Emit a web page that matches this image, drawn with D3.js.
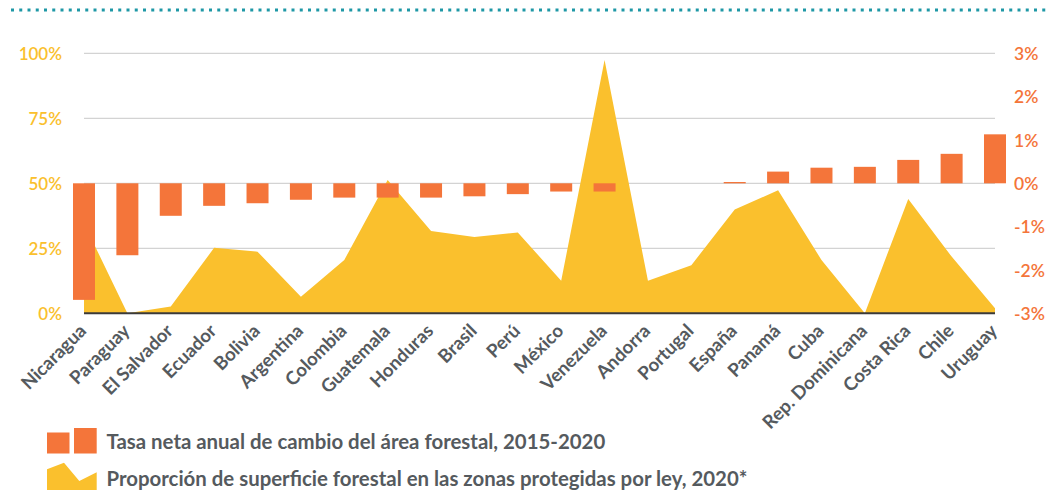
<!DOCTYPE html>
<html>
<head>
<meta charset="utf-8">
<script src="https://cdn.jsdelivr.net/npm/d3@7/dist/d3.min.js"></script>
<style>
  html, body { margin: 0; padding: 0; background: #fff; }
  svg { display: block; font-family: Lato, "Noto Sans", sans-serif; }
</style>
</head>
<body>
<svg id="chart" width="1046" height="490"></svg>
<script>
const categories = ["Nicaragua","Paraguay","El Salvador","Ecuador","Bolivia","Argentina","Colombia","Guatemala","Honduras","Brasil","Perú","México","Venezuela","Andorra","Portugal","España","Panamá","Cuba","Rep. Dominicana","Costa Rica","Chile","Uruguay"];
// Tasa neta anual de cambio del área forestal, 2015-2020 (%)
const changeRate = [-2.69,-1.66,-0.75,-0.52,-0.46,-0.38,-0.33,-0.33,-0.33,-0.30,-0.25,-0.19,-0.19,0,0,0.03,0.27,0.36,0.38,0.54,0.68,1.13];
// Proporción de superficie forestal en las zonas protegidas por ley, 2020 (%)
const protectedShare = [34.6,0,2.6,25.2,23.7,6.4,20.5,51.3,31.7,29.3,31.1,12.5,97.4,12.5,18.5,39.9,47.3,20.5,0,44.0,21.8,1.9];
const leftTicks = [0,25,50,75,100];
const rightTicks = [-3,-2,-1,0,1,2,3];
const legendLabels = ["Tasa neta anual de cambio del área forestal, 2015-2020","Proporción de superficie forestal en las zonas protegidas por ley, 2020*"];

const ORANGE = "#F4753A", YELLOW = "#FAC02D", GRAY = "#555a5e";
const svg = d3.select("#chart");

const x = d3.scalePoint().domain(categories).range([84, 995]);
const yL = d3.scaleLinear().domain([0,100]).range([313.3, 53.3]);
const yR = d3.scaleLinear().domain([-3,3]).range([313.3, 53.3]);

// top dotted rule
svg.append("line").attr("x1", 11).attr("x2", 1046).attr("y1", 10).attr("y2", 10)
  .attr("stroke", "#1e98a6").attr("stroke-width", 3).attr("stroke-dasharray", "3,5.25");

// gridlines
svg.append("g").selectAll("line").data(leftTicks.filter(d => d > 0)).join("line")
  .attr("x1", 84).attr("x2", 995)
  .attr("y1", d => yL(d)).attr("y2", d => yL(d))
  .attr("stroke", "#d3d3d3").attr("stroke-width", 1.3);

// area
const area = d3.area().x((d,i) => x(categories[i])).y0(yL(0)).y1(d => yL(d));
svg.append("path").datum(protectedShare).attr("d", area).attr("fill", YELLOW);

// bars
const bw = 22;
svg.append("g").selectAll("rect").data(changeRate).join("rect")
  .attr("x", (d,i) => x(categories[i]) - bw/2)
  .attr("width", bw)
  .attr("y", d => Math.min(yR(0), yR(d)))
  .attr("height", d => Math.abs(yR(d) - yR(0)))
  .attr("fill", ORANGE);

// baseline
svg.append("line").attr("x1", 84).attr("x2", 995).attr("y1", yL(0)).attr("y2", yL(0))
  .attr("stroke", "#3a3a3a").attr("stroke-width", 2);

// left axis
const leftAxis = d3.axisLeft(yL).tickValues(leftTicks).tickFormat(d => d + "%").tickSize(0).tickPadding(0);
const gL = svg.append("g").attr("transform", "translate(62,0)").call(leftAxis);
gL.select(".domain").remove();
gL.selectAll("text").attr("fill", YELLOW).attr("font-size", 17).attr("font-weight", 600)
  .attr("font-family", "Lato").attr("dy", "0.36em");

// right axis
const rightAxis = d3.axisRight(yR).tickValues(rightTicks).tickFormat(d => d + "%").tickSize(0).tickPadding(0);
const gR = svg.append("g").attr("transform", "translate(1014,0)").call(rightAxis);
gR.select(".domain").remove();
gR.selectAll("text").attr("fill", ORANGE).attr("font-size", 17.5).attr("font-weight", 600)
  .attr("font-family", "Lato").attr("dy", "0.36em");

// x labels
svg.append("g").selectAll("text").data(categories).join("text")
  .attr("transform", d => `translate(${x(d) + 3.5},${332}) rotate(-45)`)
  .attr("text-anchor", "end")
  .attr("fill", GRAY).attr("font-size", 18.5).attr("font-weight", 700)
  .text(d => d);

// legend
const lg = svg.append("g");
lg.append("rect").attr("x", 47).attr("y", 432.5).attr("width", 22.5).attr("height", 21).attr("fill", ORANGE);
lg.append("rect").attr("x", 74).attr("y", 428).attr("width", 22.7).attr("height", 25.5).attr("fill", ORANGE);
lg.append("path").attr("d", d3.line()([[47,469.3],[64,462.7],[79.3,481],[96.7,472.3],[96.7,492],[47,492]]) + "Z").attr("fill", YELLOW);
lg.selectAll("text").data(legendLabels).join("text")
  .attr("x", 106.5).attr("y", (d,i) => 449 + i*36.5)
  .attr("fill", GRAY).attr("font-size", 20.4).attr("font-weight", 700)
  .text(d => d);
</script>
</body>
</html>
